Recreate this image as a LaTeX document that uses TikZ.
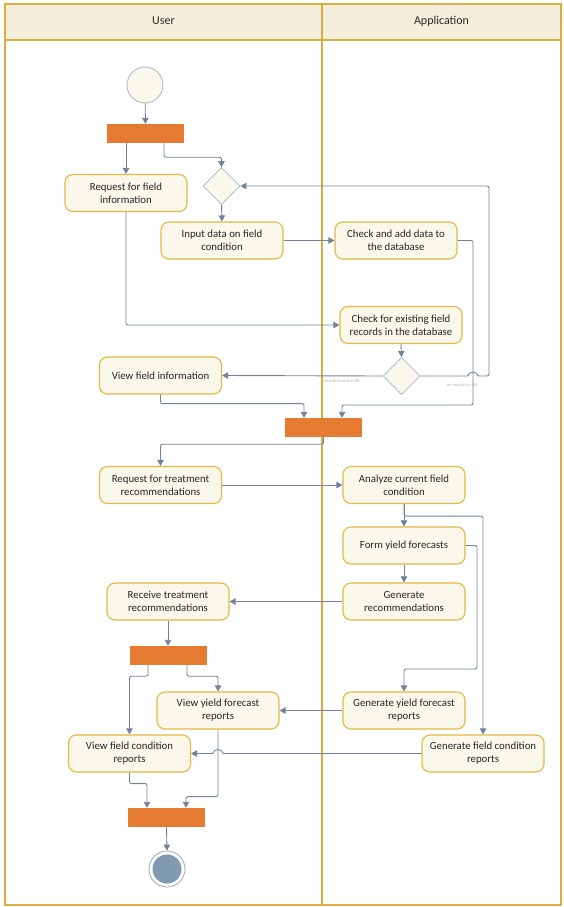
\documentclass[tikz,border=0pt]{standalone}
\usepackage{fontspec}
\setmainfont{Carlito}
\usetikzlibrary{arrows.meta,shapes.geometric}
\definecolor{lanecol}{HTML}{DCAD3E}
\definecolor{headfill}{HTML}{F4EFDD}
\definecolor{boxdraw}{HTML}{E6B843}
\definecolor{boxfill}{HTML}{FAF7EB}
\definecolor{conncol}{HTML}{71829A}
\definecolor{barcol}{HTML}{E57B30}
\definecolor{startdraw}{HTML}{A3B8CC}
\definecolor{enddraw}{HTML}{93ABC3}
\definecolor{endfill}{HTML}{8098B0}
\definecolor{lblcol}{HTML}{B8B1A0}
\tikzset{
  act/.style={draw=boxdraw, fill=boxfill, line width=1.1pt, rounded corners=8pt,
    minimum width=122pt, minimum height=37pt, inner sep=2pt, align=center,
    font=\fontsize{10.8}{13}\selectfont, text=black!85},
  bar/.style={fill=barcol, draw=none, minimum width=77pt, minimum height=19pt, inner sep=0pt},
  dec/.style={diamond, draw=startdraw, fill=boxfill, line width=0.8pt, minimum width=37pt, minimum height=37pt, inner sep=0pt},
  conn/.style={draw=conncol, line width=0.9pt, rounded corners=2pt, -{Triangle[width=6.5pt,length=6pt]}},
  lane/.style={draw=lanecol, line width=1.1pt},
  guard/.style={font=\fontsize{4.5}{5}\selectfont, text=lblcol, inner sep=0pt},
  headtxt/.style={font=\fontsize{12}{13}\selectfont, text=black!85}
}
\begin{document}
\begin{tikzpicture}[x=1pt,y=-1pt]
\useasboundingbox (0,0) rectangle (563,907);
% swimlanes
\fill[headfill] (5,4) rectangle (561,40);
\draw[lane] (5,4) rectangle (561,905);
\draw[lane] (5,40) -- (561,40);
\draw[lane] (322,4) -- (322,905);
\node[headtxt] (hu) at (163.5,21) {User};
\node[headtxt] (ha) at (441.5,21) {Application};
% nodes
\node[circle, draw=startdraw, fill=boxfill, line width=0.8pt, minimum size=36pt, inner sep=0pt] (start) at (145,85) {};
\node[bar] (bar1) at (145.5,133.5) {};
\node[dec] (d1) at (221.5,186) {};
\node[act] (rfi) at (126,193) {Request for field\\information};
\node[act] (inp) at (222,240.5) {Input data on field\\condition};
\node[act] (chk) at (396,240.5) {Check and add data to\\the database};
\node[act] (cfe) at (401,325) {Check for existing field\\records in the database};
\node[dec] (d2) at (401.5,376) {};
\node[act] (vfi) at (160.5,375.5) {View field information};
\node[bar] (bar2) at (323.5,427.5) {};
\node[act] (rtr) at (160.5,485) {Request for treatment\\recommendations};
\node[act] (acf) at (404,485) {Analyze current field\\condition};
\node[act] (fyf) at (404,545.5) {Form yield forecasts};
\node[act] (grec) at (404,601.5) {Generate\\recommendations};
\node[act] (rcv) at (168,601.5) {Receive treatment\\recommendations};
\node[bar] (bar3) at (168,655.5) {};
\node[act] (vyf) at (218,710.5) {View yield forecast\\reports};
\node[act] (gyf) at (404,710.5) {Generate yield forecast\\reports};
\node[act] (vfc) at (129.5,753.5) {View field condition\\reports};
\node[act] (gfc) at (483,753.5) {Generate field condition\\reports};
\node[bar] (bar4) at (166.5,817.5) {};
\node[circle, draw=enddraw, fill=white, line width=0.8pt, minimum size=36pt, inner sep=0pt] (end) at (167,869) {};
\fill[endfill] (end.center) circle[radius=14.5pt];
% connectors
\draw[conn] (start) -- (bar1);
\draw[conn] (rfi.north |- bar1.south) -- (rfi.north);
\draw[conn] ([xshift=18.5pt]bar1.south) -- ++(0,14) -| (d1.north);
\draw[conn] (d1.south) -- (inp.north);
\draw[conn] (inp.east) -- (chk.west);
\draw[conn] (chk.east) -| (473,405) -| ([xshift=18.5pt]bar2.north);
\draw[conn] (rfi.south) |- (cfe.west);
\draw[conn] (cfe.south) -- (d2.north);
\draw[conn] (d2.west) -- (vfi.east);
\node[guard] (lf) at (341.5,381) {records found in DB};
\draw[conn] (d2.east) -- (469,376) arc[start angle=180, end angle=0, radius=4pt] -- (489,376) |- (d1.east);
\node[guard] (ln) at (462,385) {no records in DB};
\draw[conn] (vfi.south) -- ++(0,9) -| ([xshift=-19.5pt]bar2.north);
\draw[conn] (bar2.south) -- ++(0,7) -| (rtr.north);
\draw[conn] (rtr.east) -- (acf.west);
\draw[conn] (acf.south) -- (fyf.north);
\draw[conn] (acf.south) -- ++(0,12) -| (gfc.north);
\draw[conn] (fyf.east) -| (477,669) -| (gyf.north);
\draw[conn] (fyf.south) -- (grec.north);
\draw[conn] (grec.west) -- (rcv.east);
\draw[conn] (rcv.south) -- (bar3.north);
\draw[conn] ([xshift=-20pt]bar3.south) -- ++(0,11) -| (vfc.north);
\draw[conn] ([xshift=19pt]bar3.south) -- ++(0,11) -| (vyf.north);
\draw[conn] (gyf.west) -- (vyf.east);
\draw[conn] (gfc.west) -- (222,753.5) arc[start angle=0, end angle=180, radius=4pt] -- (vfc.east);
\draw[conn] (vyf.south) -- ++(0,67) -| ([xshift=19.5pt]bar4.north);
\draw[conn] (vfc.south) -- ++(0,11) -| ([xshift=-19.5pt]bar4.north);
\draw[conn] (bar4.south) -- (end.north);
\end{tikzpicture}
\end{document}
